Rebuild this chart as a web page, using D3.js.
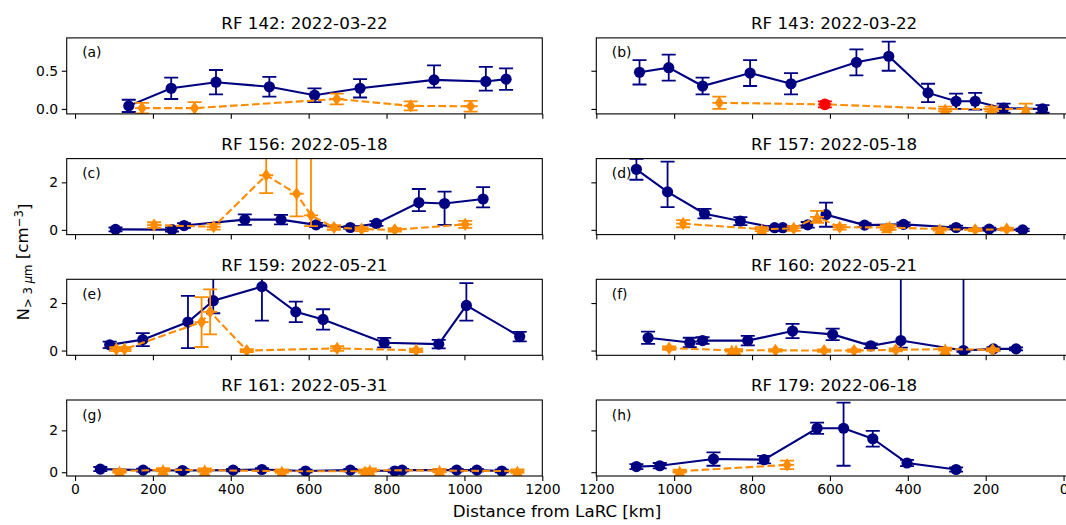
<!DOCTYPE html>
<html><head><meta charset="utf-8">
<script src="https://cdn.jsdelivr.net/npm/d3@7"></script>
<style>
body{margin:0;background:#fff}
svg{display:block;font-family:"DejaVu Sans",sans-serif}
</style>
</head><body>
<svg id="chart" width="1066" height="525"></svg>
<script>
// ---------------- DATA ----------------
const distTicks = [0, 200, 400, 600, 800, 1000, 1200];
const panelLetters = ["a", "b", "c", "d", "e", "f", "g", "h"];
const panelTitles = ["RF 142: 2022-03-22", "RF 143: 2022-03-22", "RF 156: 2022-05-18", "RF 157: 2022-05-18",
                     "RF 159: 2022-05-21", "RF 160: 2022-05-21", "RF 161: 2022-05-31", "RF 179: 2022-06-18"];
const rowYDomains = [[-0.065, 0.93], [-0.2, 3.0], [-0.2, 3.0], [-0.18, 3.45]];
const rowYTicks = [[0, 0.5], [0, 2], [0, 2], [0, 2]];
const orangeXErr = 18;

// blue: [distance km, N, yerr (sym or [lo,hi])]
const rf142Blue = [[138,0.04,0.08],[247,0.27,0.14],[362,0.35,0.16],[499,0.29,0.13],[615,0.18,0.09],[732,0.27,0.12],[922,0.38,[0.1,0.19]],[1055,0.36,[0.12,0.19]],[1107,0.39,0.14]];
const rf142Orange = [[172,0.01,0.07,"d"],[307,0.01,0.08,"d"],[672,0.13,0.07,"d"],[862,0.04,0.06,"d"],[1016,0.035,0.07,"d"]];

const rf143Blue = [[1089,0.48,0.16],[1014,0.54,0.17],[927,0.30,0.11],[805,0.47,0.17],[700,0.33,0.14],[532,0.61,0.17],[449,0.69,0.19],[348,0.21,0.12],[276,0.10,0.10],[227,0.10,0.11],[154,0.01,0.06],[54,0.0,0.05]];
const rf143Orange = [[884,0.08,0.08,"d"],[613,0.06,0.04,"r"],[304,0.0,0.03,"^"],[185,0.0,0.03,"^"],[97,0.0,0.07,"^"]];

const rf156Blue = [[104,0.02,0.08],[249,0.01,0.08],[280,0.18,0.1],[436,0.43,0.22],[529,0.43,0.2],[619,0.21,0.08],[707,0.1,0.06],[774,0.27,0.1],[883,1.15,[0.36,0.57]],[949,1.11,[0.9,0.5]],[1048,1.3,[0.35,0.5]]];
const rf156Orange = [[203,0.2,0.12,"d"],[356,0.13,0.12,"d"],[491,2.3,0.75,"d"],[569,1.52,[0.95,2.5],"d"],[606,0.61,[0.45,3],"d"],[665,0.1,0.1,"d"],[736,0.03,0.08,"d"],[821,0.0,0.07,"d"],[1002,0.23,0.15,"d"]];

const rf157Blue = [[1097,2.55,0.44],[1017,1.6,[0.64,1.27]],[922,0.68,0.2],[830,0.37,0.17],[742,0.09,0.08],[721,0.09,0.08],[657,0.21,0.12],[610,0.64,0.51],[511,0.2,0.08],[411,0.23,0.08],[276,0.1,0.08],[191,0.03,0.06],[105,0.0,0.05]];
const rf157Orange = [[977,0.26,0.15,"d"],[775,0.03,0.08,"^"],[693,0.06,0.1,"d"],[633,0.55,0.25,"^"],[575,0.11,0.1,"d"],[454,0.1,0.1,"^"],[447,0.1,0.1,"d"],[318,0.03,0.06,"^"],[227,0.0,0.05,"d"],[146,0.03,0.06,"d"]];

const rf159Blue = [[89,0.24,0.14],[174,0.46,0.27],[290,1.2,1.1],[355,2.1,[0.53,1.0]],[480,2.69,[1.43,1.0]],[567,1.63,0.43],[637,1.31,0.43],[794,0.33,0.2],[934,0.27,0.18],[1005,1.9,[0.64,0.94]],[1142,0.59,0.2]];
const rf159Orange = [[106,0.06,0.08,"d"],[127,0.06,0.08,"d"],[325,1.2,1.05,"d"],[347,1.63,0.95,"d"],[441,0.0,0.06,"d"],[673,0.09,0.1,"d"],[876,0.01,0.07,"d"]];

const rf160Blue = [[1067,0.54,0.26],[960,0.34,0.2],[927,0.42,0.14],[811,0.42,0.2],[696,0.82,0.3],[593,0.68,0.24],[495,0.2,0.1],[418,0.42,[0.3,4]],[257,0.0,[0.05,4]],[180,0.07,0.07],[122,0.07,0.06]];
const rf160Orange = [[1013,0.1,0.07,"d"],[852,0.01,0.05,"^"],[841,0.01,0.05,"^"],[740,0.01,0.05,"d"],[615,0.0,0.05,"d"],[538,0.0,0.05,"d"],[431,0.03,0.06,"d"],[304,0.06,0.06,"^"],[182,0.03,0.06,"d"]];

const rf161Blue = [[65,0.15,0.1],[175,0.1,0.07],[276,0.08,0.07],[406,0.1,0.06],[480,0.13,0.07],[592,0.06,0.06],[707,0.1,0.06],[821,0.06,0.06],[840,0.1,0.06],[980,0.1,0.06],[1032,0.1,0.06],[1096,0.06,0.06]];
const rf161Orange = [[114,0.05,0.08,"^"],[226,0.12,0.08,"^"],[333,0.1,0.08,"^"],[531,0.05,0.08,"^"],[745,0.05,0.08,"^"],[757,0.1,0.08,"^"],[936,0.08,0.08,"^"],[1136,0.05,0.08,"^"]];

const rf179Blue = [[1097,0.27,0.12],[1037,0.31,0.13],[899,0.63,0.32],[769,0.6,0.18],[633,2.1,0.27],[565,2.1,[1.79,1.22]],[490,1.6,0.38],[402,0.44,0.15],[276,0.13,0.1]];
const rf179Orange = [[986,0.05,0.07,"^"],[710,0.35,0.2,"d"]];

const blueSeries = [rf142Blue, rf143Blue, rf156Blue, rf157Blue, rf159Blue, rf160Blue, rf161Blue, rf179Blue];
const orangeSeries = [rf142Orange, rf143Orange, rf156Orange, rf157Orange, rf159Orange, rf160Orange, rf161Orange, rf179Orange];

// ---------------- LAYOUT ----------------
const BLUE = "#000080", ORANGE = "#ff8c00", RED = "#ff0000";
const colRanges = [[66.7, 542.3], [596.3, 1071.9]];
const colDomains = [[-21.4, 1200], [1200, -21.4]];
const rowTops = [37.9, 158.6, 279.3, 400];
const axH = 76;
const TICK_FS = "13.9px", TITLE_FS = "16.7px";

const svg = d3.select("#chart");
svg.append("rect").attr("width", 1066).attr("height", 525).attr("fill", "#fff");

function loHi(e) { return Array.isArray(e) ? e : [e, e]; }

function markerPath(shape, cx, cy) {
  if (shape === "^") {
    const s = 5.8;
    return `M${cx},${cy - s}L${cx + s},${cy + s}L${cx - s},${cy + s}Z`;
  }
  if (shape === "d") {
    const h = 6.6, w = 4.6;
    return `M${cx},${cy - h}L${cx + w},${cy}L${cx},${cy + h}L${cx - w},${cy}Z`;
  }
  return null;
}

panelTitles.forEach((title, i) => {
  const row = Math.floor(i / 2), col = i % 2;
  const [x0, x1] = colRanges[col];
  const top = rowTops[row], bot = top + axH;
  const x = d3.scaleLinear().domain(colDomains[col]).range([x0, x1]);
  const y = d3.scaleLinear().domain(rowYDomains[row]).range([bot, top]);
  const g = svg.append("g");

  const clipId = "clip" + i;
  svg.append("defs").append("clipPath").attr("id", clipId)
    .append("rect").attr("x", x0).attr("y", top).attr("width", x1 - x0).attr("height", axH);
  const data = g.append("g").attr("clip-path", `url(#${clipId})`);

  const line = d3.line().x(d => x(d[0])).y(d => y(d[1]));
  const cap = 7;

  // ---- blue series
  const blue = blueSeries[i];
  const bg = data.append("g");
  blue.forEach(d => {
    const [lo, hi] = loHi(d[2]);
    const cx = x(d[0]), y1 = y(d[1] - lo), y2 = y(d[1] + hi);
    bg.append("line").attr("x1", cx).attr("x2", cx).attr("y1", y1).attr("y2", y2)
      .attr("stroke", BLUE).attr("stroke-width", 1.8);
    [y1, y2].forEach(yy => bg.append("line").attr("x1", cx - cap).attr("x2", cx + cap)
      .attr("y1", yy).attr("y2", yy).attr("stroke", BLUE).attr("stroke-width", 1.8));
  });
  bg.append("path").attr("d", line(blue)).attr("fill", "none").attr("stroke", BLUE).attr("stroke-width", 2.1);
  blue.forEach(d => {
    bg.append("circle").attr("cx", x(d[0])).attr("cy", y(d[1])).attr("r", 5.6).attr("fill", BLUE);
  });

  // ---- orange series
  const orange = orangeSeries[i];
  const og = data.append("g");
  orange.forEach(d => {
    const color = d[3] === "r" ? RED : ORANGE;
    const [lo, hi] = loHi(d[2]);
    const cx = x(d[0]), cy = y(d[1]);
    const y1 = y(d[1] - lo), y2 = y(d[1] + hi);
    const xa = x(d[0] - orangeXErr), xb = x(d[0] + orangeXErr);
    og.append("line").attr("x1", cx).attr("x2", cx).attr("y1", y1).attr("y2", y2)
      .attr("stroke", color).attr("stroke-width", 1.8);
    [y1, y2].forEach(yy => og.append("line").attr("x1", cx - cap).attr("x2", cx + cap)
      .attr("y1", yy).attr("y2", yy).attr("stroke", color).attr("stroke-width", 1.8));
    og.append("line").attr("x1", xa).attr("x2", xb).attr("y1", cy).attr("y2", cy)
      .attr("stroke", color).attr("stroke-width", 1.8);
  });
  og.append("path").attr("d", line(orange)).attr("fill", "none").attr("stroke", ORANGE)
    .attr("stroke-width", 2.1).attr("stroke-dasharray", "7.7,3.3");
  orange.forEach(d => {
    const cx = x(d[0]), cy = y(d[1]);
    if (d[3] === "r") {
      og.append("circle").attr("cx", cx).attr("cy", cy).attr("r", 5.8).attr("fill", RED);
    } else {
      og.append("path").attr("d", markerPath(d[3], cx, cy)).attr("fill", ORANGE);
    }
  });

  // ---- axes
  const xAxis = d3.axisBottom(x).tickValues(distTicks).tickSize(4.9).tickPadding(3.6)
    .tickFormat(row === 3 ? d3.format("d") : () => "");
  const xg = g.append("g").attr("transform", `translate(0,${bot})`).call(xAxis);
  const yAxis = d3.axisLeft(y).tickValues(rowYTicks[row]).tickSize(4.9).tickPadding(3.6)
    .tickFormat(col === 0 ? (row === 0 ? d3.format(".1f") : d3.format("d")) : () => "");
  const yg = g.append("g").attr("transform", `translate(${x0},0)`).call(yAxis);
  [xg, yg].forEach(a => {
    a.select(".domain").remove();
    a.selectAll("line").attr("stroke", "#000").attr("stroke-width", 1.1);
    a.selectAll("text").attr("fill", "#000").style("font-size", TICK_FS)
      .style("font-family", '"DejaVu Sans",sans-serif');
  });

  g.append("rect").attr("x", x0).attr("y", top).attr("width", x1 - x0).attr("height", axH)
    .attr("fill", "none").attr("stroke", "#000").attr("stroke-width", 1.1);

  g.append("text").attr("x", (x0 + x1) / 2).attr("y", top - 8.6).attr("text-anchor", "middle")
    .style("font-size", TITLE_FS).attr("fill", "#000").text(title);
  g.append("text").attr("x", x0 + 15.5).attr("y", top + 19.5)
    .style("font-size", TICK_FS).attr("fill", "#000").text("(" + panelLetters[i] + ")");
});

// x label
svg.append("text").attr("x", 557).attr("y", 517).attr("text-anchor", "middle")
  .style("font-size", TITLE_FS).attr("fill", "#000").text("Distance from LaRC [km]");

// y label
const yl = svg.append("text").attr("transform", "translate(29,262) rotate(-90)")
  .attr("text-anchor", "middle").style("font-size", TITLE_FS).attr("fill", "#000");
yl.append("tspan").text("N");
yl.append("tspan").attr("dy", "0.25em").style("font-size", "11.7px").text("> 3 ");
yl.append("tspan").style("font-size", "11.7px").style("font-style", "italic").text("μ");
yl.append("tspan").style("font-size", "11.7px").text("m");
yl.append("tspan").attr("dy", "-0.25em").text(" [cm");
yl.append("tspan").attr("dy", "-0.45em").style("font-size", "11.7px").text("−3");
yl.append("tspan").attr("dy", "0.45em").text("]");
</script>
</body></html>
